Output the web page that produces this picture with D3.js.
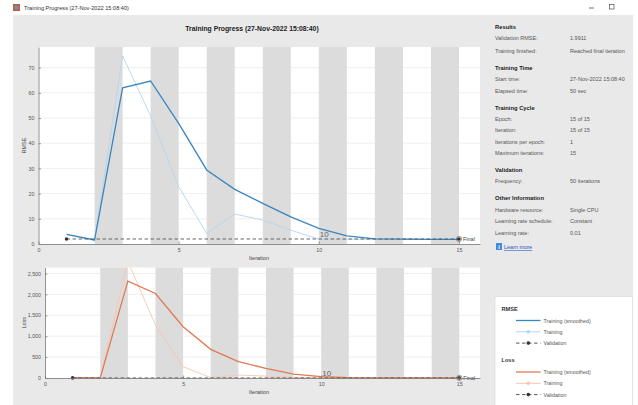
<!DOCTYPE html>
<html>
<head>
<meta charset="utf-8">
<script src="https://cdn.jsdelivr.net/npm/d3@7"></script>
<style>
  body { margin: 0; background: #fff; }
  text { font-family: "Liberation Sans", Arial, sans-serif; }
</style>
</head>
<body>
<div id="d3-container"></div>
<script>
// data
let iterations = [1, 2, 3, 4, 5, 6, 7, 8, 9, 10, 11, 12, 13, 14, 15];
let rmseSmoothed = [3.8, 1.6, 62, 64.7, 47.9, 29.4, 21.7, 16.1, 10.8, 6.2, 3.2, 2.0, 1.9, 1.8, 1.8];
let rmseTraining = [3.8, 1.3, 74.7, 50.8, 22.8, 4.2, 11.9, 9.5, 5.5, 1.9, 1.9, 1.9, 1.9, 1.8, 1.8];
let lossSmoothed = [8, 1, 2316, 2022, 1226, 685, 390, 231, 95, 31, 8, 3, 2, 2, 2];
let lossTraining = [8, 1, 2790, 1266, 271, 9, 71, 45, 15, 2, 2, 2, 2, 2, 2];
let validationIter = [1, 15];
let rmseValidation = [1.99, 1.99];
let lossValidation = [1.98, 1.98];
// shaded epochs start at these iterations
let bandStarts = [2, 4, 6, 8, 10, 12, 14];
let xTicks = [0, 5, 10, 15];
let rmseTicks = [0, 10, 20, 30, 40, 50, 60, 70];
let lossTicks = [0, 500, 1000, 1500, 2000, 2500];

let infoRows = [
  ["Results", null],
  ["Validation RMSE:", "1.9911"],
  ["Training finished:", "Reached final iteration"],
  ["Training Time", null],
  ["Start time:", "27-Nov-2022 15:08:40"],
  ["Elapsed time:", "50 sec"],
  ["Training Cycle", null],
  ["Epoch:", "15 of 15"],
  ["Iteration:", "15 of 15"],
  ["Iterations per epoch:", "1"],
  ["Maximum iterations:", "15"],
  ["Validation", null],
  ["Frequency:", "50 iterations"],
  ["Other Information", null],
  ["Hardware resource:", "Single CPU"],
  ["Learning rate schedule:", "Constant"],
  ["Learning rate:", "0.01"]
];
let infoY = [27, 38, 50.5, 68, 79, 90.5, 108, 119, 130, 142, 153, 170, 181, 198, 210, 221, 232.5];

let svg = d3.select('#d3-container')
  .append('svg')
  .attr('width', 638)
  .attr('height', 405);

svg.append('rect').attr('width', 638).attr('height', 405).attr('fill', '#fff');
// figure background
svg.append('rect').attr('x', 13).attr('y', 15).attr('width', 620).attr('height', 390).attr('fill', '#e9e9e9');

// window title bar
svg.append('rect').attr('x', 13).attr('y', 4).attr('width', 7).attr('height', 7).attr('fill', '#c85a2e');
svg.append('rect').attr('x', 14.5).attr('y', 5.5).attr('width', 4).attr('height', 4).attr('fill', '#6a8fc4');
svg.append('text').attr('x', 24).attr('y', 10).attr('font-size', 5.6).attr('fill', '#333')
  .text('Training Progress (27-Nov-2022 15:08:40)');
svg.append('line').attr('x1', 589).attr('x2', 594).attr('y1', 8).attr('y2', 8).attr('stroke', '#333').attr('stroke-width', 0.7);
svg.append('rect').attr('x', 609.5).attr('y', 4.5).attr('width', 4.5).attr('height', 4.5)
  .attr('fill', 'none').attr('stroke', '#333').attr('stroke-width', 0.6);

svg.append('text').attr('x', 252).attr('y', 31).attr('text-anchor', 'middle')
  .attr('font-size', 6.8).attr('font-weight', 'bold').attr('fill', '#222')
  .text('Training Progress (27-Nov-2022 15:08:40)');

let clipCount = 0;

function drawPlot(cfg) {
  let x = d3.scaleLinear().domain([0, 15.75]).range([cfg.left, 480]);
  let y = d3.scaleLinear().domain([0, cfg.yMax]).range([cfg.bottom, cfg.top]);
  let g = svg.append('g');

  g.append('rect').attr('x', cfg.left).attr('y', cfg.top)
    .attr('width', 480 - cfg.left).attr('height', cfg.bottom - cfg.top).attr('fill', '#fff');

  // horizontal grid
  g.selectAll('.grid').data(cfg.ticks.slice(1)).enter().append('line')
    .attr('x1', cfg.left).attr('x2', 480)
    .attr('y1', d => y(d)).attr('y2', d => y(d))
    .attr('stroke', '#ebebeb').attr('stroke-width', 0.8);

  // epoch bands
  g.selectAll('.band').data(bandStarts).enter().append('rect')
    .attr('x', d => x(d)).attr('width', d => x(d + 1) - x(d))
    .attr('y', cfg.top).attr('height', cfg.bottom - cfg.top)
    .attr('fill', '#dcdcdc');

  clipCount++;
  let clipId = 'clip' + clipCount;
  svg.append('clipPath').attr('id', clipId).append('rect')
    .attr('x', cfg.left).attr('y', cfg.top).attr('width', 480 - cfg.left).attr('height', cfg.bottom - cfg.top + 2);

  let line = d3.line().x((d, i) => x(iterations[i])).y(d => y(d));
  let lines = g.append('g').attr('clip-path', 'url(#' + clipId + ')');

  lines.append('path').datum(cfg.raw).attr('d', line)
    .attr('fill', 'none').attr('stroke', cfg.light).attr('stroke-width', 0.9);
  lines.append('path').datum(cfg.smooth).attr('d', line)
    .attr('fill', 'none').attr('stroke', cfg.dark).attr('stroke-width', 1.3);

  let vline = d3.line().x((d, i) => x(validationIter[i])).y(d => y(d));
  lines.append('path').datum(cfg.valid).attr('d', vline)
    .attr('fill', 'none').attr('stroke', '#555').attr('stroke-width', 0.9)
    .attr('stroke-dasharray', '3.5,2.5');

  g.append('circle').attr('cx', x(validationIter[0])).attr('cy', y(cfg.valid[0]))
    .attr('r', 1.8).attr('fill', '#333');
  let last = validationIter.length - 1;
  g.append('circle').attr('cx', x(validationIter[last])).attr('cy', y(cfg.valid[last]))
    .attr('r', 2.7).attr('fill', 'none').attr('stroke', '#666').attr('stroke-width', 0.6);
  g.append('circle').attr('cx', x(validationIter[last])).attr('cy', y(cfg.valid[last]))
    .attr('r', 1.8).attr('fill', '#333');
  g.append('text').attr('x', x(validationIter[last]) + 4).attr('y', y(cfg.valid[last]) + 2)
    .attr('font-size', 5.5).attr('fill', '#444').text('Final');

  // stray "10" label near iteration 10
  g.append('text').attr('x', x(10) + 1).attr('y', y(cfg.valid[0]) - 1.5)
    .attr('font-size', 8).attr('fill', '#666').text('10');

  // axes
  let yAxis = g.append('g').attr('transform', 'translate(' + cfg.left + ',0)')
    .call(d3.axisLeft(y).tickValues(cfg.ticks).tickSize(-2.5).tickSizeOuter(0).tickPadding(4));
  let xAxis = g.append('g').attr('transform', 'translate(0,' + cfg.bottom + ')')
    .call(d3.axisBottom(x).tickValues(xTicks).tickSize(-2.5).tickSizeOuter(0).tickPadding(4));
  [yAxis, xAxis].forEach(a => {
    a.select('.domain').attr('stroke', '#777').attr('stroke-width', 0.8);
    a.selectAll('.tick line').attr('stroke', '#777').attr('stroke-width', 0.7);
    a.selectAll('.tick text').attr('font-size', 5.3).attr('fill', '#555')
      .style('font-family', '"Liberation Sans", Arial, sans-serif');
  });

  svg.append('text').attr('x', 259).attr('y', cfg.bottom + 16).attr('text-anchor', 'middle')
    .attr('font-size', 5.5).attr('fill', '#444').text('Iteration');
  svg.append('text').attr('transform', 'translate(26,' + ((cfg.top + cfg.bottom) / 2) + ') rotate(-90)')
    .attr('text-anchor', 'middle').attr('font-size', 5.5).attr('fill', '#444').text(cfg.label);
}

drawPlot({ left: 38.5, top: 47, bottom: 244, yMax: 78.2, ticks: rmseTicks, label: 'RMSE',
  smooth: rmseSmoothed, raw: rmseTraining, valid: rmseValidation, dark: '#3a86c0', light: '#b5d5ec' });
drawPlot({ left: 45, top: 267.5, bottom: 378, yMax: 2643, ticks: lossTicks, label: 'Loss',
  smooth: lossSmoothed, raw: lossTraining, valid: lossValidation, dark: '#df7a52', light: '#f6c6b1' });

// info panel on the right
let info = svg.append('g');
infoRows.forEach((r, i) => {
  let bold = r[1] === null;
  info.append('text').attr('x', 495).attr('y', infoY[i] + 2)
    .attr('font-size', bold ? 5.8 : 5.5).attr('font-weight', bold ? 'bold' : 'normal')
    .attr('fill', bold ? '#222' : '#555').text(r[0]);
  if (!bold) {
    info.append('text').attr('x', 570).attr('y', infoY[i] + 2)
      .attr('font-size', 5.5).attr('fill', '#555').text(r[1]);
  }
});
info.append('rect').attr('x', 496).attr('y', 243).attr('width', 6).attr('height', 7).attr('fill', '#3f8fd8');
info.append('text').attr('x', 499).attr('y', 249).attr('text-anchor', 'middle')
  .attr('font-size', 6).attr('font-weight', 'bold').attr('fill', '#fff').text('i');
info.append('text').attr('x', 504).attr('y', 249).attr('font-size', 5.5)
  .attr('fill', '#1a55c0').attr('text-decoration', 'underline').text('Learn more');

// legend
let legendGroups = [
  { title: 'RMSE', dark: '#3a86c0', light: '#b5d5ec' },
  { title: 'Loss', dark: '#df7a52', light: '#f6c6b1' }
];
let legendNames = ['Training (smoothed)', 'Training', 'Validation'];
let leg = svg.append('g');
leg.append('rect').attr('x', 495).attr('y', 296.5).attr('width', 137.5).attr('height', 110)
  .attr('fill', '#fff').attr('stroke', '#d6d6d6').attr('stroke-width', 0.6);
legendGroups.forEach((grp, gi) => {
  let y0 = 308.5 + gi * 51.5;
  leg.append('text').attr('x', 501.5).attr('y', y0 + 2).attr('font-size', 5.6)
    .attr('font-weight', 'bold').attr('fill', '#333').text(grp.title);
  legendNames.forEach((n, k) => {
    let yy = y0 + 12 + k * 11.3;
    let stroke = k === 0 ? grp.dark : (k === 1 ? grp.light : '#555');
    leg.append('line').attr('x1', 516).attr('x2', 540.5).attr('y1', yy).attr('y2', yy)
      .attr('stroke', stroke).attr('stroke-width', k === 0 ? 1.3 : 1)
      .attr('stroke-dasharray', k === 2 ? '3.5,2.5' : null);
    if (k > 0) {
      leg.append('circle').attr('cx', 528.3).attr('cy', yy).attr('r', 1.8)
        .attr('fill', k === 1 ? grp.light : '#333');
    }
    leg.append('text').attr('x', 543.5).attr('y', yy + 2).attr('font-size', 5.3)
      .attr('fill', '#555').text(n);
  });
});
</script>
</body>
</html>
